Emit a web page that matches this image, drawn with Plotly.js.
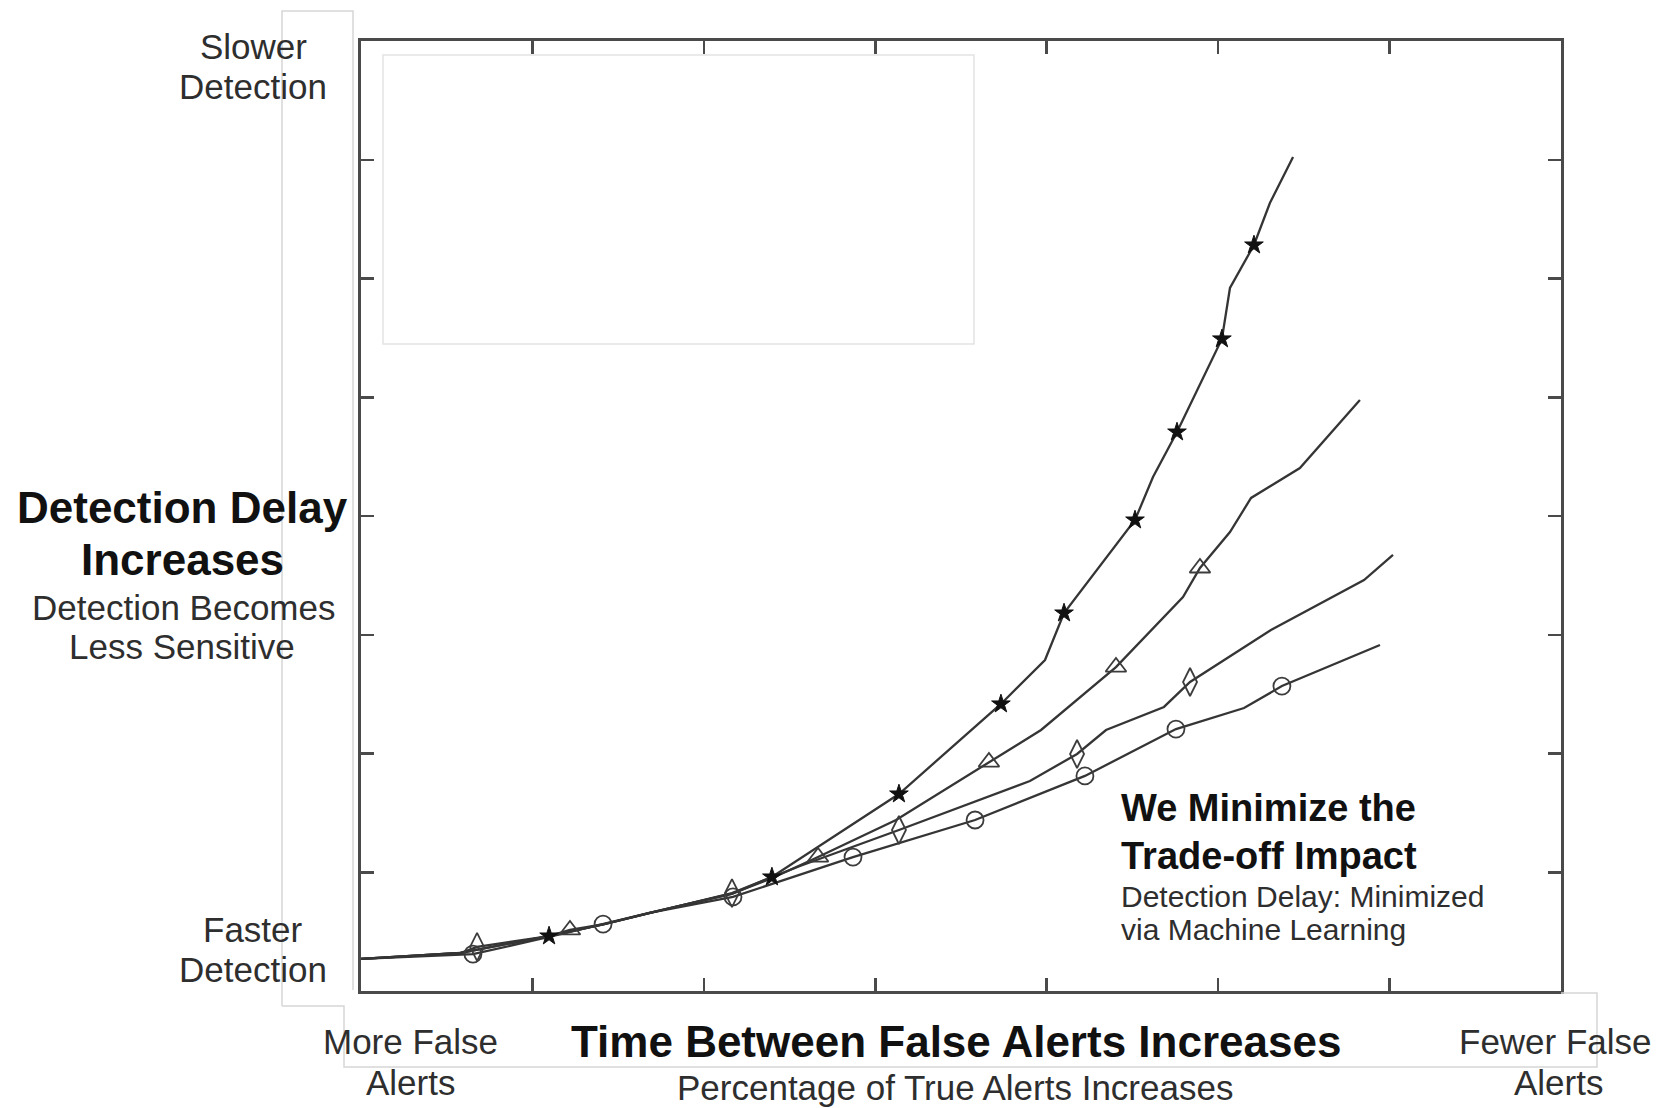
<!DOCTYPE html>
<html>
<head>
<meta charset="utf-8">
<script src="https://cdn.plot.ly/plotly-3.0.1.min.js"></script>
<style>html,body{margin:0;padding:0;background:#fff;}#chart{width:1656px;height:1108px;}</style>
</head>
<body>
<div id="chart"></div>
<script>
// ---- data ----
const starX = [0, 0.58, 0.665, 1.097, 1.41, 1.69, 2.164, 2.397, 3.138, 3.733, 3.99, 4.101, 4.515, 4.62, 4.76, 5.022, 5.069, 5.209, 5.302, 5.437];
const starY = [0.27, 0.32, 0.345, 0.463, 0.56, 0.66, 0.817, 0.96, 1.659, 2.417, 2.787, 3.183, 3.966, 4.328, 4.707, 5.491, 5.92, 6.282, 6.636, 7.023];
const starMarked = [3, 7, 8, 9, 11, 12, 14, 15, 17];

const triX = [0, 0.58, 0.665, 1.097, 1.219, 1.41, 1.69, 2.164, 2.397, 2.666, 3.121, 3.663, 3.967, 4.404, 4.795, 4.894, 5.069, 5.192, 5.477, 5.827];
const triY = [0.27, 0.32, 0.345, 0.463, 0.514, 0.56, 0.66, 0.82, 0.95, 1.128, 1.44, 1.928, 2.198, 2.728, 3.318, 3.562, 3.865, 4.152, 4.404, 4.977];
const triMarked = [4, 9, 11, 13, 15];

const diaX = [0, 0.58, 0.677, 1.097, 1.41, 1.69, 2.164, 2.561, 3.138, 3.902, 4.177, 4.346, 4.684, 4.836, 5.308, 5.851, 6.02];
const diaY = [0.27, 0.32, 0.371, 0.463, 0.56, 0.66, 0.825, 1.053, 1.356, 1.768, 1.996, 2.198, 2.392, 2.602, 3.04, 3.461, 3.672];
const diaMarked = [2, 6, 8, 10, 13];

const cirX = [0, 0.58, 0.653, 1.097, 1.412, 1.69, 2.17, 2.87, 3.582, 4.223, 4.754, 5.151, 5.372, 5.944];
const cirY = [0.27, 0.31, 0.31, 0.455, 0.564, 0.66, 0.792, 1.128, 1.44, 1.811, 2.206, 2.383, 2.568, 2.914];
const cirMarked = [2, 4, 6, 7, 8, 9, 10, 12];

const xTicks = [1, 2, 3, 4, 5, 6];
const yTicks = [1, 2, 3, 4, 5, 6, 7];

// ---- layout helpers ----
const W = 1656, H = 1108;
const PL = 361, PR = 1561, PT = 41, PB = 991;
const px = x => (x - PL) / (PR - PL);
const py = y => (PB - y) / (PB - PT);

const lineColor = '#353535';
function lineTrace(x, y) {
  return {x: x, y: y, mode: 'lines', type: 'scatter', line: {color: lineColor, width: 2.3}, hoverinfo: 'skip', showlegend: false};
}
function markTrace(x, y, idx, symbol, size, fill, lw) {
  return {
    x: idx.map(i => x[i]), y: idx.map(i => y[i]), mode: 'markers', type: 'scatter', showlegend: false,
    marker: {symbol: symbol, size: size, color: fill, line: {color: fill, width: lw}}
  };
}

const traces = [
  lineTrace(cirX, cirY), lineTrace(diaX, diaY), lineTrace(triX, triY), lineTrace(starX, starY),
  markTrace(cirX, cirY, cirMarked, 'circle-open', 17, '#3c3c3c', 1.8),
  markTrace(diaX, diaY, diaMarked, 'diamond-tall-open', 20, '#3c3c3c', 1.8),
  markTrace(triX, triY, triMarked, 'triangle-up-open', 18, '#3c3c3c', 1.8),
  markTrace(starX, starY, starMarked, 'star', 14, '#111', 1)
];

const REG = '"Liberation Sans", Arial, Helvetica, sans-serif';
function ann(text, x, y, size, bold, anchor) {
  return {
    text: bold ? '<b>' + text + '</b>' : text,
    xref: 'paper', yref: 'paper', x: px(x), y: py(y),
    xanchor: anchor || 'center', yanchor: 'middle', showarrow: false,
    font: {family: REG, size: size, color: bold ? '#111' : '#2e2e2e'}
  };
}

const annotations = [
  ann('Slower', 253, 47, 35, false),
  ann('Detection', 253, 87, 35, false),
  ann('Detection Delay', 182, 508, 44, true),
  ann('Increases', 182, 559, 44, true),
  ann('Detection Becomes', 183, 607, 35, false),
  ann('Less Sensitive', 182, 646, 35, false),
  ann('Faster', 253, 929, 35, false),
  ann('Detection', 253, 969, 35, false),
  ann('More False', 410, 1041, 35, false),
  ann('Alerts', 410, 1082, 35, false),
  ann('Time Between False Alerts Increases', 956, 1041, 44, true),
  ann('Percentage of True Alerts Increases', 955, 1087, 35, false),
  ann('Fewer False', 1555, 1041, 35, false),
  ann('Alerts', 1558, 1082, 35, false),
  ann('We Minimize the', 1119, 808, 38, true, 'left'),
  ann('Trade-off Impact', 1119, 856, 38, true, 'left'),
  ann('Detection Delay: Minimized', 1119, 896, 30, false, 'left'),
  ann('via Machine Learning', 1119, 929, 30, false, 'left')
];

function pathPaper(points) {
  return points.map((p, i) => (i ? 'L' : 'M') + px(p[0]).toFixed(5) + ',' + py(p[1]).toFixed(5)).join(' ');
}
const faint = {color: '#d6d6d6', width: 1.5};
const shapes = [
  {type: 'rect', xref: 'paper', yref: 'paper', x0: px(383), x1: px(974), y0: py(55), y1: py(344), line: {color: '#e4e4e4', width: 1.5}},
  {type: 'path', xref: 'paper', yref: 'paper', path: pathPaper([[282, 1006], [282, 11], [353, 11], [353, 990]]), line: faint},
  {type: 'path', xref: 'paper', yref: 'paper', path: pathPaper([[282, 1006], [344, 1006], [344, 1067], [1597, 1067], [1597, 993], [1561, 993]]), line: faint}
];

const axisCommon = {
  showline: true, linewidth: 3, linecolor: '#4a4a4a', mirror: 'ticks',
  ticks: 'inside', ticklen: 13, tickwidth: 2.5, tickcolor: '#4a4a4a',
  showticklabels: false, showgrid: false, zeroline: false, fixedrange: true
};

const layout = {
  width: W, height: H, autosize: false,
  margin: {l: PL, r: W - PR, t: PT, b: H - PB, pad: 0},
  paper_bgcolor: '#fff', plot_bgcolor: '#fff',
  showlegend: false,
  xaxis: Object.assign({}, axisCommon, {range: [0, 7], tickmode: 'array', tickvals: xTicks}),
  yaxis: Object.assign({}, axisCommon, {range: [0, 8], tickmode: 'array', tickvals: yTicks}),
  annotations: annotations,
  shapes: shapes
};

Plotly.newPlot('chart', traces, layout, {displayModeBar: false, staticPlot: true});
</script>
</body>
</html>
